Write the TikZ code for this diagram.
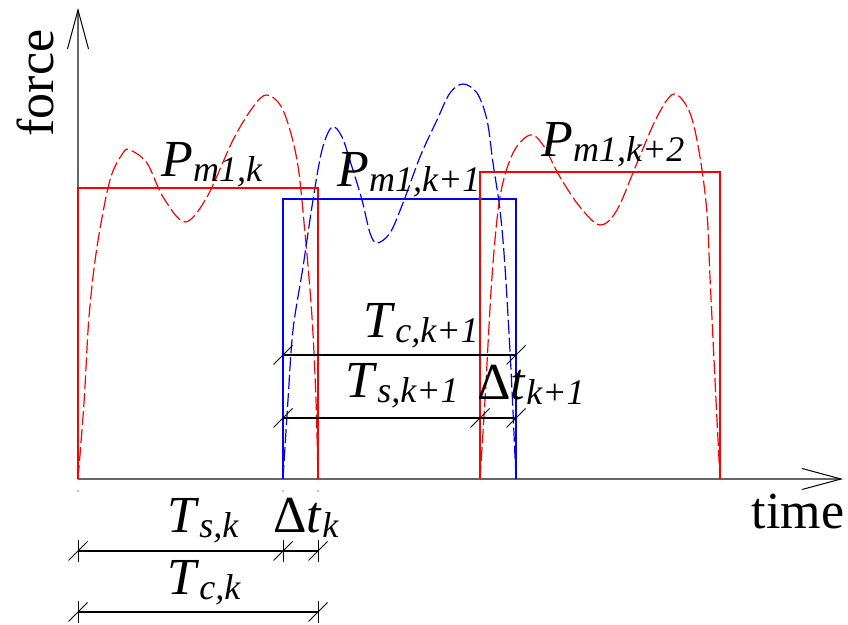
\documentclass[tikz,border=0pt]{standalone}
\usepackage{fontspec}
\setmainfont{Liberation Serif}
\usetikzlibrary{arrows.meta}

% symbol with lowered italic index
\newcommand{\lbl}[2]{#1\raisebox{-2.5pt}{\fontsize{18}{18}\selectfont\itshape #2}}

\begin{document}
\begin{tikzpicture}[
x=0.5pt, y=-0.5pt,
axis/.style={draw=black!60, line width=0.6pt, -{Straight Barb[length=19.5pt, width=10.5pt, black, line width=0.5pt]}},
box/.style={line width=0.6pt},
wave/.style={line width=0.6pt, dash pattern=on 7pt off 2pt},
dimline/.style={draw=black, line width=0.55pt},
tick/.style={black, line width=0.5pt},
txt/.style={inner sep=0pt, font=\fontsize{26}{26}\selectfont},
sym/.style={inner sep=0pt, anchor=base west, font=\fontsize{26}{26}\selectfont}
]
\useasboundingbox (0,0) rectangle (848,625);

% pulse ends on the time axis
\coordinate (O) at (78,479);
\coordinate (e1) at (318,479);
\coordinate (s2) at (283,479);
\coordinate (e2) at (516,479);
\coordinate (s3) at (480,479);
\coordinate (e3) at (720,479);

% axes
\draw[axis] (O) -- (78,8);
\draw[axis] (O) -- (843,479);
\node[txt, rotate=90] (force) at (35,83) {force};
\node[txt] (time) at (798,512) {time};

% measured force curves
\draw[wave, red] plot[smooth, tension=0.55] coordinates {
(78,479) (84,403) (89,317) (97,247) (110,180) (123,153) (130,150) (147,163)
(163,197) (185,222) (207,197) (233,140) (253,107) (267,95) (283,110)
(297,160) (305,233) (312,317) (316,400) (318,479)};
\draw[wave, blue] plot[smooth, tension=0.55] coordinates {
(283,479) (288,400) (293,330) (303,267) (313,200) (322,150) (332,127) (342,137)
(352,167) (362,200) (370,233) (377,243) (390,233) (403,203) (420,157)
(437,120) (450,93) (463,84) (477,93) (487,120) (493,163) (500,210)
(505,267) (511,370) (516,479)};
\draw[wave, red] plot[smooth, tension=0.55] coordinates {
(480,479) (485,400) (492,277) (500,197) (513,153) (530,135) (543,145)
(560,177) (580,207) (600,225) (617,210) (637,163) (657,117) (674,94)
(690,113) (700,157) (707,213) (710,277) (715,380) (720,479)};

% equivalent rectangular pulses
\draw[box, red] (O) |- (318,188) -- (e1);
\draw[box, blue] (s2) |- (516,199) -- (e2);
\draw[box, red] (s3) |- (720,172) -- (e3);

% force levels
\node[sym] (P1) at (161,177) {\lbl{\textit{P}}{m1,k}};
\node[sym] (P2) at (337,187) {\lbl{\textit{P}}{m1,k+1}};
\node[sym] (P3) at (541,157) {\lbl{\textit{P}}{m1,k+2}};

% dimension points
\coordinate (Tc1L) at (283,355);
\coordinate (Tc1R) at (516,355);
\coordinate (Ts1L) at (283,418);
\coordinate (dt1L) at (480,418);
\coordinate (dt1R) at (516,418);
\coordinate (TsL) at (78,551);
\coordinate (dtL) at (283,551);
\coordinate (dtR) at (318,551);
\coordinate (TcL) at (78,612);
\coordinate (TcR) at (318,612);

\draw[dimline] (Tc1L) -- (Tc1R);
\draw[dimline] (Ts1L) -- (dt1L) -- (dt1R);
\draw[dimline] (TsL) -- (dtL) -- (dtR);
\draw[dimline] (TcL) -- (TcR);

% extension stubs under the axis
\foreach \p in {TsL,dtL,dtR}
  \draw[tick] ([yshift=5.5pt]\p) -- ([yshift=-5.5pt]\p);
\foreach \p in {TcL,TcR}
  \draw[tick] ([yshift=5.5pt]\p) -- ([yshift=-5.5pt]\p);
\foreach \x in {78,283,318}
  \fill (\x,491) circle (0.35pt);

% slash ticks
\foreach \p in {Tc1L,Tc1R,Ts1L,dt1L,dt1R,TsL,dtL,dtR,TcL,TcR}
  \draw[tick] ([shift={(-9.5,9.5)}]\p) -- ([shift={(9.5,-9.5)}]\p);

% durations
\node[sym] (Tc1) at (363,338) {\lbl{\textit{T}}{c,k+1}};
\node[sym] (Ts1) at (345,398) {\lbl{\textit{T}}{s,k+1}};
\node[sym] (dt1) at (477,400) {\lbl{Δ\textit{t}}{k+1}};
\node[sym] (Ts) at (167,533) {\lbl{\textit{T}}{s,k}};
\node[sym] (dt) at (273,533) {\lbl{Δ\textit{t}}{k}};
\node[sym] (Tc) at (167,595) {\lbl{\textit{T}}{c,k}};

\end{tikzpicture}
\end{document}
